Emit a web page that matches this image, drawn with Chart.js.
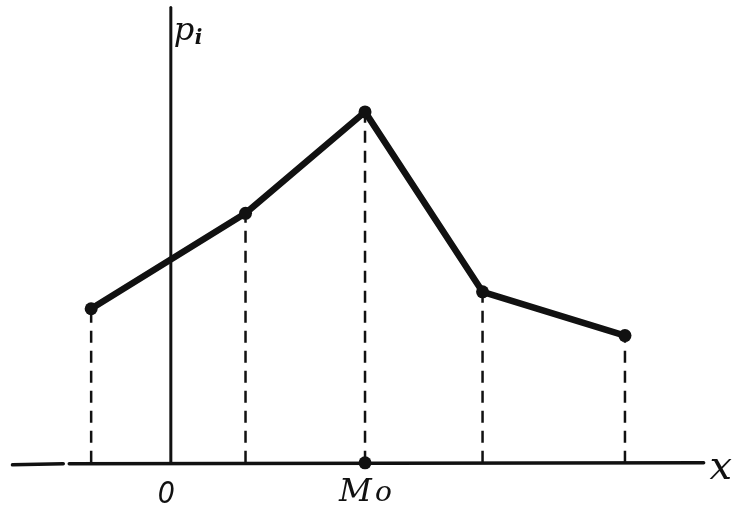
<!DOCTYPE html>
<html>
<head>
<meta charset="utf-8">
<script src="https://cdn.jsdelivr.net/npm/chart.js@4/dist/chart.umd.min.js"></script>
<style>
  html, body { margin: 0; padding: 0; background: #fff; }
  #wrap { width: 745px; height: 528px; }
</style>
</head>
<body>
<div id="wrap"><canvas id="chart" width="745" height="528"></canvas></div>
<script>
// Values of the distribution polygon (x_i, p_i), schematic units
const xValues = [-8, 7.5, 19.5, 31.3, 45.6];
const pValues = [15.5, 25.1, 35.3, 17.2, 12.8];
const modeIndex = 2;

const polygon = xValues.map((x, i) => ({ x: x, y: pValues[i] }));

// one dashed drop line per point
const dropSets = xValues.map((x, i) => ({
    data: [{ x: x, y: 0 }, { x: x, y: pValues[i] }],
    borderColor: '#111',
    borderWidth: 2.5,
    borderDash: [12, 8],
    pointRadius: 0,
    showLine: true,
    order: 3
}));

// Axes and labels drawn from the scales
const axesPlugin = {
    id: 'axes',
    beforeDatasetsDraw(chart) {
        const { ctx, scales: { x, y } } = chart;
        const x0 = x.getPixelForValue(0);
        const y0 = y.getPixelForValue(0);
        ctx.save();
        ctx.strokeStyle = '#111';
        ctx.lineCap = 'round';
        ctx.lineWidth = 3.5;
        // horizontal axis, broken near left end
        ctx.beginPath();
        ctx.moveTo(x.getPixelForValue(-15.9), y0 + 2);
        ctx.lineTo(x.getPixelForValue(-10.8), y0 + 1);
        ctx.moveTo(x.getPixelForValue(-10.2), y0 + 1);
        ctx.lineTo(x.getPixelForValue(53.5), y0);
        ctx.stroke();
        // vertical axis
        ctx.lineWidth = 3;
        ctx.beginPath();
        ctx.moveTo(x0, y.getPixelForValue(45.8));
        ctx.lineTo(x0, y0);
        ctx.stroke();
        ctx.restore();
    },
    afterDatasetsDraw(chart) {
        const { ctx, scales: { x, y } } = chart;
        const x0 = x.getPixelForValue(0);
        const y0 = y.getPixelForValue(0);
        ctx.save();
        ctx.fillStyle = '#111';
        ctx.textBaseline = 'alphabetic';
        ctx.font = 'italic 32px "DejaVu Serif"';
        ctx.fillText('p', x0 + 3, 40);
        ctx.font = 'italic bold 20px "DejaVu Serif"';
        ctx.fillText('i', x0 + 24, 44);
        ctx.font = 'italic 30px "DejaVu Sans Condensed"';
        ctx.fillText('0', x0 - 13, y0 + 40);
        const mx = x.getPixelForValue(xValues[modeIndex]);
        ctx.font = 'italic 32px "DejaVu Serif"';
        ctx.fillText('M', mx - 26, y0 + 38);
        ctx.font = 'italic 28px "DejaVu Serif"';
        ctx.fillText('o', mx + 10, y0 + 38);
        ctx.font = 'italic 40px "DejaVu Serif"';
        ctx.fillText('x', x.getPixelForValue(54.1), y0 + 16);
        ctx.restore();
    }
};

new Chart(document.getElementById('chart'), {
    type: 'scatter',
    data: {
        datasets: [
            {
                data: polygon,
                showLine: true,
                borderColor: '#111',
                borderWidth: 6.5,
                borderJoinStyle: 'round',
                pointRadius: 6.5,
                pointBackgroundColor: '#111',
                pointBorderWidth: 0,
                order: 1
            },
            {
                data: [{ x: xValues[modeIndex], y: 0 }],
                pointRadius: 6.5,
                pointBackgroundColor: '#111',
                pointBorderWidth: 0,
                order: 1
            },
            ...dropSets
        ]
    },
    options: {
        responsive: false,
        animation: false,
        devicePixelRatio: 1,
        layout: { padding: 0 },
        plugins: { legend: { display: false }, tooltip: { enabled: false } },
        scales: {
            x: { type: 'linear', min: -16.5, max: 57.0, display: false },
            y: { type: 'linear', min: -5.9, max: 45.9, display: false }
        },
        clip: false
    },
    plugins: [axesPlugin]
});
</script>
</body>
</html>
